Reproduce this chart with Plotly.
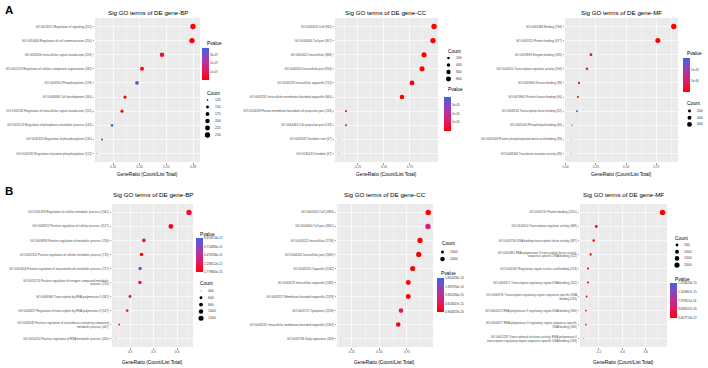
import math
import plotly.graph_objects as go

W, H = 708, 368
FONT = "Liberation Sans, Arial, sans-serif"

# ---------------- Panel A : BP ----------------
a_bp_terms = ["GO:0023051 Regulation of signaling",
              "GO:0010646 Regulation of cell communication",
              "GO:0035556 Intracellular signal transduction",
              "GO:0051128 Regulation of cellular component organization",
              "GO:0016310 Phosphorylation",
              "GO:0048468 Cell development",
              "GO:1902531 Regulation of intracellular signal transduction",
              "GO:0051174 Regulation of phosphorus metabolic process",
              "GO:0042325 Regulation of phosphorylation",
              "GO:0001932 Regulation of protein phosphorylation"]
a_bp_ratio = [0.280, 0.2785, 0.2335, 0.2035, 0.196, 0.178, 0.1735, 0.1585, 0.1435, 0.136]
a_bp_count = [252, 250, 209, 182, 176, 160, 155, 143, 130, 122]
a_bp_pvalue = [1e-12, 1e-12, 6e-8, 1.5e-8, 3.3e-7, 2e-8, 3e-8, 3.8e-7, 9e-8, 1.6e-7]
a_bp_xticks = [0.16, 0.20, 0.24, 0.28]
a_bp_pticks = [1e-7, 2e-7, 3e-7]
a_bp_ptext = ["1e-07", "2e-07", "3e-07"]
a_bp_cbreaks = [125, 150, 175, 200, 225, 250]

# ---------------- Panel A : CC ----------------
a_cc_terms = ["GO:0005623 Cell",
              "GO:0044464 Cell part",
              "GO:0005622 Intracellular",
              "GO:0044424 Intracellular part",
              "GO:0043229 Intracellular organelle",
              "GO:0043231 Intracellular membrane-bounded organelle",
              "GO:0120038 Plasma membrane bounded cell projection part",
              "GO:0044463 Cell projection part",
              "GO:0097447 Dendritic tree",
              "GO:0030425 Dendrite"]
a_cc_ratio = [0.982, 0.972, 0.886, 0.867, 0.770, 0.674, 0.136, 0.136, 0.068, 0.068]
a_cc_count = [962, 957, 868, 850, 755, 660, 133, 133, 67, 67]
a_cc_pvalue = [1e-30, 1e-29, 1e-22, 1e-21, 1e-17, 1e-13, 1.1e-5, 1.1e-5, 3.9e-5, 3.6e-5]
a_cc_xticks = [0.25, 0.50, 0.75]
a_cc_pticks = [1e-5, 2e-5, 3e-5]
a_cc_ptext = ["1e-05", "2e-05", "3e-05"]
a_cc_cbreaks = [200, 400, 600, 800]

# ---------------- Panel A : MF ----------------
a_mf_terms = ["GO:0005488 Binding",
              "GO:0005515 Protein binding",
              "GO:0019899 Enzyme binding",
              "GO:0140110 Transcription regulator activity",
              "GO:0019900 Kinase binding",
              "GO:0019901 Protein kinase binding",
              "GO:0008134 Transcription factor binding",
              "GO:0005543 Phospholipid binding",
              "GO:0045309 Protein phosphorylated amino acid binding",
              "GO:0008494 Translation activator activity"]
a_mf_ratio = [0.895, 0.763, 0.209, 0.176, 0.110, 0.101, 0.093, 0.052, 0.044, 0.044]
a_mf_count = [794, 677, 185, 156, 98, 90, 82, 46, 39, 39]
a_mf_pvalue = [1e-14, 1e-13, 2.5e-6, 6e-6, 1.5e-6, 2e-6, 1.55e-5, 1.3e-5, 9e-6, 1e-5]
a_mf_xticks = [0.00, 0.25, 0.50, 0.75]
a_mf_pticks = [5e-6, 1e-5]
a_mf_ptext = ["5e-06", "1e-05"]
a_mf_cbreaks = [200, 400, 600]

# ---------------- Panel B : BP ----------------
b_bp_terms = ["GO:0031323 Regulation of cellular metabolic process",
              "GO:0048522 Positive regulation of cellular process",
              "GO:0009893 Positive regulation of metabolic process",
              "GO:0031325 Positive regulation of cellular metabolic process",
              "GO:0010604 Positive regulation of macromolecule metabolic process",
              "GO:0051173 Positive regulation of nitrogen compound metabolic<br>process",
              "GO:0006366 Transcription by RNA polymerase II",
              "GO:0006357 Regulation of transcription by RNA polymerase II",
              "GO:0045935 Positive regulation of nucleobase-containing compound<br>metabolic process",
              "GO:0051254 Positive regulation of RNA metabolic process"]
b_bp_ratio = [0.451, 0.374, 0.259, 0.249, 0.243, 0.242, 0.200, 0.188, 0.154, 0.139]
b_bp_count = [1341, 1117, 756, 732, 717, 710, 582, 547, 447, 400]
b_bp_pvalue = [1.2e-21, 6e-22, 1.6e-21, 2.779660e-25, 8.953214e-21, 1.4e-21, 1.9e-21, 2.6e-21, 2.3e-21, 3.0e-21]
b_bp_xticks = [0.2, 0.3, 0.4]
b_bp_pticks = [2.779660e-25, 2.238512e-21, 4.476746e-21, 6.714980e-21, 8.953214e-21]
b_bp_cbreaks = [400, 600, 800, 1000, 1200]

# ---------------- Panel B : CC ----------------
b_cc_terms = ["GO:0005623 Cell",
              "GO:0044464 Cell part",
              "GO:0005622 Intracellular",
              "GO:0044424 Intracellular part",
              "GO:0043226 Organelle",
              "GO:0043229 Intracellular organelle",
              "GO:0043227 Membrane-bounded organelle",
              "GO:0005737 Cytoplasm",
              "GO:0043231 Intracellular membrane-bounded organelle",
              "GO:0005794 Golgi apparatus"]
b_cc_ratio = [0.944, 0.941, 0.869, 0.857, 0.802, 0.762, 0.762, 0.696, 0.671, 0.148]
b_cc_count = [2866, 2861, 2736, 2695, 2542, 2382, 2378, 2198, 2092, 459]
b_cc_pvalue = [1e-20, 7.5e-15, 1e-18, 2e-18, 1e-16, 3e-16, 4.904823e-24, 5.5e-15, 1e-15, 1.861059e-14]
b_cc_xticks = [0.25, 0.50, 0.75]
b_cc_pticks = [4.904823e-24, 4.652647e-15, 9.305294e-15, 1.395794e-14, 1.861059e-14]
b_cc_cbreaks = [1000, 2000]

# ---------------- Panel B : MF ----------------
b_mf_terms = ["GO:0005515 Protein binding",
              "GO:0140110 Transcription regulator activity",
              "GO:0003700 DNA binding transcription factor activity",
              "GO:0000981 RNA polymerase II transcription factor activity,<br>sequence-specific DNA binding",
              "GO:0001067 Regulatory region nucleic acid binding",
              "GO:0044212 Transcription regulatory region DNA binding",
              "GO:0000976 Transcription regulatory region sequence-specific DNA<br>binding",
              "GO:0001012 RNA polymerase II regulatory region DNA binding",
              "GO:0000977 RNA polymerase II regulatory region sequence-specific<br>DNA binding",
              "GO:0001228 Transcriptional activator activity, RNA polymerase II<br>transcription regulatory region sequence-specific DNA binding"]
b_mf_ratio = [0.742, 0.177, 0.155, 0.129, 0.106, 0.106, 0.095, 0.089, 0.089, 0.066]
b_mf_count = [2161, 468, 387, 311, 253, 252, 216, 180, 180, 108]
b_mf_pvalue = [3.407713e-22, 2e-19, 5e-19, 3e-17, 1e-17, 2e-17, 1e-16, 8e-17, 2e-16, 1.474623e-15]
b_mf_xticks = [0.2, 0.4, 0.6]
b_mf_pticks = [3.407713e-22, 3.686557e-16, 7.373115e-16, 1.105967e-15, 1.474623e-15]
b_mf_cbreaks = [500, 1000, 1500, 2000]

COLORSCALE = [[0.0, "#FF0000"], [0.25, "#E5185C"], [0.5, "#BF2E90"],
              [0.75, "#8A45C0"], [1.0, "#3E64E6"]]

CB_SHIFT = 3  # small correction for plotly's colorbar placement


def sci(vals):
    return ["{:e}".format(v) for v in vals]


panels = [
    dict(letter="A", terms=a_bp_terms, ratio=a_bp_ratio, count=a_bp_count, pval=a_bp_pvalue,
         title="Sig GO terms of DE gene-BP", px=(95, 200), py=(18, 162), xr=(0.133, 0.2905),
         xt=a_bp_xticks, fmt="{:.2f}", pt=a_bp_pticks, ptx=a_bp_ptext, cbk=a_bp_cbreaks,
         pvt=(205, 43), cb=(205, 48, 32), cnt=(205, 93), dot=(207.5, 100, 7.0), lbl=213,
         ty=13, aty=174),
    dict(letter=None, terms=a_cc_terms, ratio=a_cc_ratio, count=a_cc_count, pval=a_cc_pvalue,
         title="Sig GO terms of DE gene-CC", px=(335, 438), py=(18, 162), xr=(0.03, 1.02),
         xt=a_cc_xticks, fmt="{:.2f}", pt=a_cc_pticks, ptx=a_cc_ptext, cbk=a_cc_cbreaks,
         pvt=(446, 90), cb=(447, 97, 34), cnt=(446, 51), dot=(448.5, 58, 7.0), lbl=454,
         ty=13, aty=174),
    dict(letter=None, terms=a_mf_terms, ratio=a_mf_ratio, count=a_mf_count, pval=a_mf_pvalue,
         title="Sig GO terms of DE gene-MF", px=(565, 678), py=(18, 162), xr=(-0.006, 0.93),
         xt=a_mf_xticks, fmt="{:.2f}", pt=a_mf_pticks, ptx=a_mf_ptext, cbk=a_mf_cbreaks,
         pvt=(685, 53), cb=(686, 58, 34), cnt=(685, 103), dot=(689.5, 111, 6.7), lbl=695,
         ty=13, aty=174),
    dict(letter="B", terms=b_bp_terms, ratio=b_bp_ratio, count=b_bp_count, pval=b_bp_pvalue,
         title="Sig GO terms of DE gene-BP", px=(112, 193), py=(204, 347), xr=(0.1234, 0.468),
         xt=b_bp_xticks, fmt="{:.1f}", pt=b_bp_pticks, ptx=sci(b_bp_pticks), cbk=b_bp_cbreaks,
         pvt=(198, 234), cb=(199, 238, 34), cnt=(198, 283), dot=(201, 291, 6.8), lbl=206,
         ty=194, aty=362),
    dict(letter=None, terms=b_cc_terms, ratio=b_cc_ratio, count=b_cc_count, pval=b_cc_pvalue,
         title="Sig GO terms of DE gene-CC", px=(337, 433), py=(204, 347), xr=(0.114, 0.987),
         xt=b_cc_xticks, fmt="{:.2f}", pt=b_cc_pticks, ptx=sci(b_cc_pticks), cbk=b_cc_cbreaks,
         pvt=(439, 273), cb=(440, 278, 34), cnt=(440, 244), dot=(442.5, 252, 7.0), lbl=448,
         ty=194, aty=362),
    dict(letter=None, terms=b_mf_terms, ratio=b_mf_ratio, count=b_mf_count, pval=b_mf_pvalue,
         title="Sig GO terms of DE gene-MF", px=(580, 667), py=(204, 347), xr=(0.038, 0.78),
         xt=b_mf_xticks, fmt="{:.1f}", pt=b_mf_pticks, ptx=sci(b_mf_pticks), cbk=b_mf_cbreaks,
         pvt=(673, 279), cb=(673, 283, 35), cnt=(673, 238), dot=(677, 245, 6.7), lbl=682,
         ty=194, aty=362),
]


def size_map(vals, vmin, vmax, dmin=0.9, dmax=5.4):
    out = []
    for v in vals:
        t = (v - vmin) / (vmax - vmin)
        t = min(max(t, 0.0), 1.0)
        out.append(dmin + (dmax - dmin) * math.sqrt(t))
    return out


def minor_ticks(major, lo, hi):
    step = major[1] - major[0]
    m = [v + step / 2 for v in major[:-1]]
    m.append(major[0] - step / 2)
    m.append(major[-1] + step / 2)
    return sorted(v for v in m if lo <= v <= hi)


fig = go.Figure()
lay = {}
shapes = []
annotations = []

for i, p in enumerate(panels):
    k = "" if i == 0 else str(i + 1)
    labels = [f"{t} ({c})" for t, c in zip(p["terms"], p["count"])]
    cmin, cmax = min(p["count"]), max(p["count"])
    sizes = size_map(p["count"], cmin, cmax)
    fig.add_trace(go.Scatter(
        x=p["ratio"], y=labels, mode="markers", xaxis="x" + k, yaxis="y" + k,
        marker=dict(size=sizes, color=p["pval"], coloraxis="coloraxis" + k,
                    line=dict(width=0), opacity=1),
        showlegend=False, hoverinfo="x+y"))
    x0, x1 = p["px"]
    y0, y1 = p["py"]
    lo, hi = p["xr"]
    lay["xaxis" + k] = dict(
        domain=[x0 / W, x1 / W], anchor="y" + k, range=[lo, hi],
        tickmode="array", tickvals=p["xt"], ticktext=[p["fmt"].format(v) for v in p["xt"]],
        showgrid=True, gridcolor="white", gridwidth=0.7, zeroline=False, showline=False,
        ticks="outside", ticklen=1.5, tickwidth=0.5, tickcolor="#333333",
        tickfont=dict(size=3.2, color="#4D4D4D", family=FONT),
        minor=dict(tickmode="array", tickvals=minor_ticks(p["xt"], lo, hi),
                   showgrid=True, gridcolor="white", gridwidth=0.35, ticks=""),
        fixedrange=True, automargin=False)
    n = len(labels)
    lay["yaxis" + k] = dict(
        domain=[1 - y1 / H, 1 - y0 / H], anchor="x" + k, type="category",
        categoryorder="array", categoryarray=labels, range=[n - 0.4, -0.6],
        showgrid=True, gridcolor="white", gridwidth=0.7, zeroline=False, showline=False,
        ticks="outside", ticklen=1.5, tickwidth=0.5, tickcolor="#333333",
        tickfont=dict(size=3, color="#4D4D4D", family=FONT),
        fixedrange=True, automargin=False)
    cbx, cby, cbl = p["cb"]
    lay["coloraxis" + k] = dict(
        colorscale=COLORSCALE, cmin=min(p["pval"]), cmax=max(p["pval"]),
        colorbar=dict(x=(cbx - CB_SHIFT) / W, xanchor="left", y=1 - cby / H, yanchor="top",
                      len=cbl, lenmode="pixels", thickness=6.5, thicknessmode="pixels",
                      outlinewidth=0, xpad=0, ypad=0, tickmode="array",
                      tickvals=p["pt"], ticktext=p["ptx"], ticks="", ticklen=0,
                      tickfont=dict(size=3, color="#333333", family=FONT)))
    # titles
    annotations.append(dict(text=p["title"], x=(x0 + x1) / 2 / W, y=1 - p["ty"] / H,
                            xref="paper", yref="paper", showarrow=False,
                            xanchor="center", yanchor="middle",
                            font=dict(size=6.2, color="black", family=FONT)))
    annotations.append(dict(text="GeneRatio (Count/List Total)", x=(x0 + x1) / 2 / W,
                            y=1 - p["aty"] / H, xref="paper", yref="paper", showarrow=False,
                            xanchor="center", yanchor="middle",
                            font=dict(size=4.8, color="black", family=FONT)))
    annotations.append(dict(text="Pvalue", x=p["pvt"][0] / W, y=1 - p["pvt"][1] / H,
                            xref="paper", yref="paper", showarrow=False,
                            xanchor="left", yanchor="middle",
                            font=dict(size=4.8, color="black", family=FONT)))
    annotations.append(dict(text="Count", x=p["cnt"][0] / W, y=1 - p["cnt"][1] / H,
                            xref="paper", yref="paper", showarrow=False,
                            xanchor="left", yanchor="middle",
                            font=dict(size=4.8, color="black", family=FONT)))
    # count legend
    dx, dy0, ddy = p["dot"]
    lsz = size_map(p["cbk"], cmin, cmax)
    for j, (b, d) in enumerate(zip(p["cbk"], lsz)):
        cy = dy0 + j * ddy
        shapes.append(dict(type="circle", xref="paper", yref="paper",
                           x0=(dx - d / 2) / W, x1=(dx + d / 2) / W,
                           y0=1 - (cy + d / 2) / H, y1=1 - (cy - d / 2) / H,
                           fillcolor="black", line=dict(width=0)))
        annotations.append(dict(text=str(b), x=p["lbl"] / W, y=1 - cy / H,
                                xref="paper", yref="paper", showarrow=False,
                                xanchor="left", yanchor="middle",
                                font=dict(size=3.4, color="#333333", family=FONT)))
    if p["letter"]:
        annotations.append(dict(text="<b>" + p["letter"] + "</b>", x=3 / W,
                                y=1 - (p["ty"] - 3) / H, xref="paper", yref="paper",
                                showarrow=False, xanchor="left", yanchor="middle",
                                font=dict(size=11.5, color="black", family=FONT)))

fig.update_layout(
    width=W, height=H, autosize=False,
    margin=dict(l=0, r=0, t=0, b=0, pad=0),
    paper_bgcolor="white", plot_bgcolor="#EBEBEB",
    showlegend=False, font=dict(family=FONT),
    shapes=shapes, annotations=annotations, **lay)

fig.write_html("out.html",
               config={"displayModeBar": False, "staticPlot": True},
               post_script="document.body.style.margin='0px';"
                           "document.body.style.overflow='hidden';")
